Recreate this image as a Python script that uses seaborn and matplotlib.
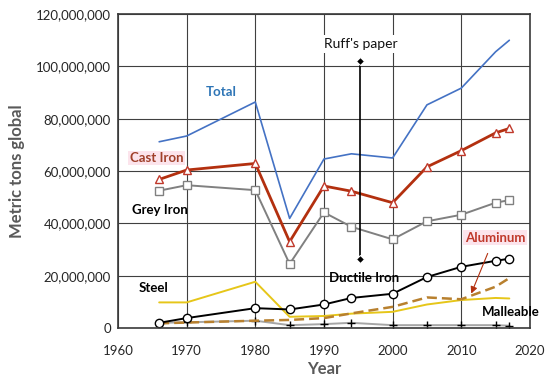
import numpy as np
import pandas as pd
import matplotlib.pyplot as plt
import matplotlib.ticker as mticker
import seaborn as sns

# Global metal casting production, metric tons
years = [1966, 1970, 1980, 1985, 1990, 1994, 2000, 2005, 2010, 2015, 2017]
total = [71.2e6, 73.4e6, 86.4e6, 41.9e6, 64.6e6, 66.6e6, 65.0e6, 85.3e6, 91.7e6, 105.6e6, 110.0e6]
cast_iron = [56.8e6, 60.4e6, 62.9e6, 33.0e6, 54.3e6, 52.3e6, 47.9e6, 61.6e6, 67.8e6, 74.6e6, 76.3e6]
grey_iron = [52.5e6, 54.6e6, 52.7e6, 24.5e6, 44.2e6, 38.7e6, 33.9e6, 40.8e6, 43.3e6, 47.9e6, 48.9e6]
ductile_iron = [2.0e6, 3.8e6, 7.6e6, 7.1e6, 9.0e6, 11.5e6, 13.1e6, 19.5e6, 23.4e6, 25.7e6, 26.5e6]
steel = [9.8e6, 9.8e6, 17.7e6, 4.3e6, 4.6e6, 5.5e6, 6.2e6, 9.0e6, 10.7e6, 11.5e6, 11.3e6]
aluminum = [1.8e6, 2.1e6, 2.8e6, 3.1e6, 3.8e6, 5.6e6, 8.1e6, 11.7e6, 11.0e6, 15.8e6, 19.1e6]
malleable = [2.0e6, 2.2e6, 2.8e6, 1.1e6, 1.5e6, 2.0e6, 1.1e6, 1.1e6, 1.1e6, 1.1e6, 0.9e6]

ruff_year = [1995.3, 1995.3]
ruff_range = [102e6, 26.5e6]

sns.set_style("white")
plt.rcParams["font.family"] = ["Lato", "DejaVu Sans"]

fig = plt.figure(figsize=(5.5, 3.81), dpi=100)
ax = fig.add_axes([0.2145, 0.139, 0.749, 0.824])

ax.grid(True, color="#404040", linewidth=0.8, zorder=0)
ax.set_axisbelow(True)

sns.lineplot(x=years, y=total, ax=ax, color="#4472C4", linewidth=1.2)
sns.lineplot(x=years, y=grey_iron, ax=ax, color="#808080", linewidth=1.4,
             marker="s", markersize=6, markerfacecolor="white",
             markeredgecolor="#808080", markeredgewidth=1.0)
sns.lineplot(x=years, y=cast_iron, ax=ax, color="#B3300F", linewidth=2.0,
             marker="^", markersize=6, markerfacecolor="white",
             markeredgecolor="#C0392B", markeredgewidth=1.0)
sns.lineplot(x=years, y=steel, ax=ax, color="#E6C619", linewidth=1.4)
sns.lineplot(x=years, y=malleable, ax=ax, color="#A6A6A6", linewidth=1.4,
             marker="+", markersize=6, markeredgecolor="black",
             markeredgewidth=1.0)
sns.lineplot(x=years, y=aluminum, ax=ax, color="#B8802E", linewidth=1.8,
             linestyle=(0, (4, 2)))
sns.lineplot(x=years, y=ductile_iron, ax=ax, color="black", linewidth=1.4,
             marker="o", markersize=6, markerfacecolor="white",
             markeredgecolor="black", markeredgewidth=1.0)

# Ruff's paper marker
sns.lineplot(x=ruff_year, y=ruff_range, ax=ax, color="black", linewidth=1.2,
             marker="D", markersize=4.5, estimator=None, sort=False)
ax.text(1995.3, 108.5e6, "Ruff's paper", ha="center", va="center", fontsize=10,
        color="#111111", bbox=dict(facecolor="white", edgecolor="none", pad=2))

lab = dict(fontsize=9.5, fontweight="bold", va="center")
ax.text(1975.1, 90.2e6, "Total", color="#2E75B6", ha="center", **lab)
ax.text(1965.6, 65e6, "Cast Iron", color="#A0402A", ha="center", **lab,
        bbox=dict(facecolor="#FCE4EC", edgecolor="none", pad=1))
ax.text(1966.1, 45e6, "Grey Iron", color="black", ha="center", **lab)
ax.text(1965.2, 15.3e6, "Steel", color="black", ha="center", **lab)
ax.text(1995.8, 19.1e6, "Ductile Iron", color="black", ha="center", **lab)
ax.text(2014.9, 34.5e6, "Aluminum", color="#C0392B", ha="center", **lab,
        bbox=dict(facecolor="#FCE4EC", edgecolor="none", pad=1))
ax.text(2017.2, 6.1e6, "Malleable", color="black", ha="center", **lab)
ax.annotate("", xy=(2011.3, 12.2e6), xytext=(2014.0, 29.5e6),
            arrowprops=dict(arrowstyle="-|>", color="#B3300F", lw=0.8,
                            mutation_scale=10))

ax.set_xlim(1960, 2020)
ax.set_ylim(0, 120e6)
ax.set_xticks(np.arange(1960, 2021, 10))
ax.set_yticks(np.arange(0, 120e6 + 1, 20e6))
ax.yaxis.set_major_formatter(mticker.FuncFormatter(lambda v, p: f"{int(v):,}"))
ax.tick_params(axis="y", labelsize=9.5, colors="#262626", length=0, pad=5)
ax.tick_params(axis="x", labelsize=9.5, colors="#262626", length=0, pad=12)
ax.set_xlabel("Year", fontsize=12, fontweight="bold", color="#595959", labelpad=3)
ax.set_ylabel("Metric tons global", fontsize=12, fontweight="bold",
              color="#595959", labelpad=8)
for sp in ax.spines.values():
    sp.set_color("#3a3a3a")
    sp.set_linewidth(1.2)

fig.savefig("out.png", dpi=100)
